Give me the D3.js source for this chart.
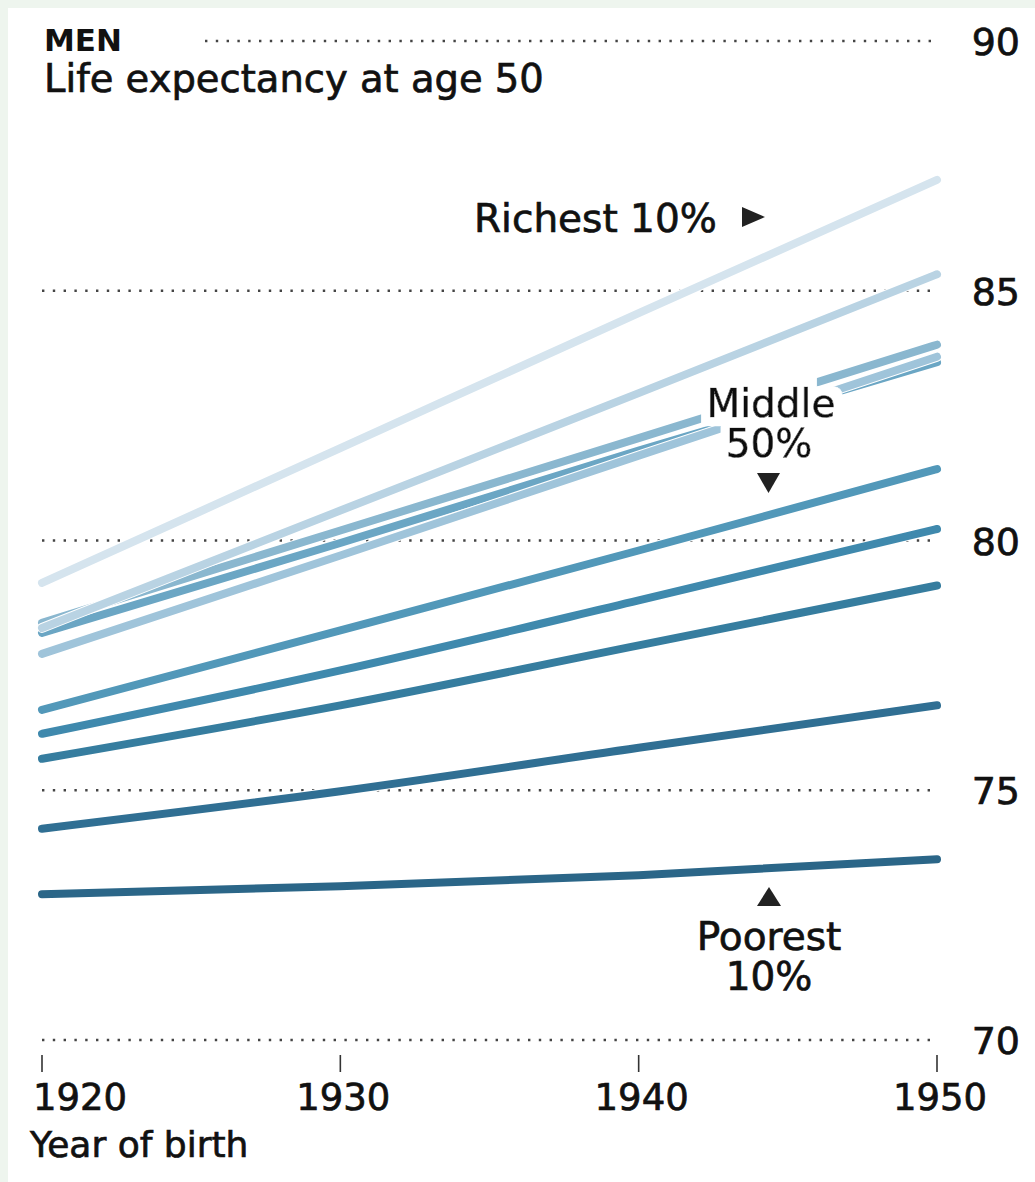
<!DOCTYPE html>
<html>
<head>
<meta charset="utf-8">
<script src="https://d3js.org/d3.v7.min.js"></script>
<style>
  html, body { margin: 0; padding: 0; background: #eef5ee; }
  svg { display: block; }
  text { font-family: "DejaVu Sans", sans-serif; fill: #111; }
  text.t { stroke: #111; stroke-width: 0.7px; }
</style>
</head>
<body>
<div id="chart"></div>
<script>
// ---- Data ----
const years = [1920, 1930, 1940, 1950];
const groups = ["Richest 10%", "Decile 9", "Decile 8", "Decile 7", "Decile 6",
                "Decile 5", "Decile 4", "Decile 3", "Decile 2", "Poorest 10%"];
const d1  = [79.15, 81.85, 84.55, 87.22];
const d2  = [78.25, 80.60, 82.95, 85.33];
const d3v = [77.73, 79.70, 81.70, 83.68];
const d4  = [78.35, 80.20, 82.05, 83.92];
const d5  = [78.15, 79.95, 81.80, 83.57];
const d6  = [76.61, 78.20, 79.80, 81.43];
const d7  = [76.13, 77.40, 78.80, 80.23];
const d8  = [75.63, 76.70, 77.90, 79.10];
const d9  = [74.23, 74.98, 75.85, 76.70];
const d10 = [72.92, 73.08, 73.30, 73.62];
const seriesValues = [d1, d2, d3v, d4, d5, d6, d7, d8, d9, d10];
const lineColors = ["#d5e4ee", "#b9d3e3", "#9fc4da", "#8ab7cf", "#6ba6c4",
                    "#5298b9", "#3f89ad", "#367d9f", "#306f93", "#2b6688"];
const yTicks = [70, 75, 80, 85, 90];
const xTicks = [1920, 1930, 1940, 1950];

// ---- Layout ----
const W = 1035, H = 1182;
const svg = d3.select("#chart").append("svg").attr("width", W).attr("height", H);

// halo filter
const f = svg.append("defs").append("filter").attr("id", "halo")
  .attr("x", "-20%").attr("y", "-40%").attr("width", "140%").attr("height", "180%");
f.append("feMorphology").attr("in", "SourceAlpha").attr("operator", "dilate").attr("radius", 9).attr("result", "d");
f.append("feFlood").attr("flood-color", "#fff").attr("result", "w");
f.append("feComposite").attr("in", "w").attr("in2", "d").attr("operator", "in").attr("result", "h");
const fm = f.append("feMerge");
fm.append("feMergeNode").attr("in", "h");
fm.append("feMergeNode").attr("in", "SourceGraphic");

svg.append("rect").attr("x", 8).attr("y", 8).attr("width", W - 8).attr("height", H - 8).attr("fill", "#fff");

const x = d3.scaleLinear().domain([1920, 1950]).range([42, 937]);
const y = d3.scaleLinear().domain([70, 90]).range([1040, 41]);

// grid
const grid = svg.append("g");
yTicks.forEach(t => {
  grid.append("line")
    .attr("x1", t === 90 ? 205 : x(1920)).attr("x2", x(1950))
    .attr("y1", y(t)).attr("y2", y(t))
    .attr("stroke", "#444").attr("stroke-width", 2.4)
    .attr("stroke-dasharray", "2.4,8.4");
  grid.append("text").attr("class", "t")
    .attr("x", 1020).attr("y", y(t) + 14)
    .attr("text-anchor", "end")
    .attr("font-size", 38)
    .text(t);
});

// x ticks
xTicks.forEach((t, i) => {
  svg.append("line")
    .attr("x1", x(t)).attr("x2", x(t))
    .attr("y1", 1055).attr("y2", 1072)
    .attr("stroke", "#333").attr("stroke-width", 1.6);
  svg.append("text").attr("class", "t")
    .attr("x", i === 0 ? x(t) - 9 : x(t) + 3)
    .attr("y", 1110)
    .attr("text-anchor", i === 0 ? "start" : "middle")
    .attr("font-size", 37)
    .text(t);
});
svg.append("text").attr("class", "t").attr("x", 30).attr("y", 1157).attr("font-size", 36).text("Year of birth");

// titles
svg.append("text").attr("x", 44).attr("y", 51).attr("font-size", 31)
  .attr("font-weight", "bold").text("MEN");
svg.append("text").attr("class", "t").attr("x", 44).attr("y", 92).attr("font-size", 38.5)
  .text("Life expectancy at age 50");

// lines (darkest first)
const line = d3.line()
  .x((d, i) => x(years[i]))
  .y(d => y(d))
  .curve(d3.curveMonotoneX);
const lg = svg.append("g");
for (let k = seriesValues.length - 1; k >= 0; k--) {
  lg.append("path").attr("d", line(seriesValues[k]))
    .attr("fill", "none").attr("stroke", "#fff").attr("stroke-width", 10)
    .attr("stroke-linecap", "round");
  lg.append("path").attr("d", line(seriesValues[k]))
    .attr("fill", "none").attr("stroke", lineColors[k]).attr("stroke-width", 8)
    .attr("stroke-linecap", "round");
}

// annotations
const ann = svg.append("g");
ann.append("text").attr("class", "t").attr("x", 474).attr("y", 232).attr("font-size", 39).text("Richest 10%");
ann.append("path").attr("d", "M742,207 L765,217 L742,227 Z").attr("fill", "#222");

// Middle 50% with white halo
const mid = ann.append("text").attr("class", "t").attr("text-anchor", "middle")
  .attr("font-size", 39).attr("filter", "url(#halo)");
mid.append("tspan").attr("x", 771).attr("y", 417).text("Middle");
mid.append("tspan").attr("x", 769).attr("y", 457).text("50%");
ann.append("path").attr("d", "M757,473 L780,473 L768.5,493 Z").attr("fill", "#222");

ann.append("path").attr("d", "M757,906 L781,906 L769,887 Z").attr("fill", "#222");
const poor = ann.append("text").attr("class", "t").attr("text-anchor", "middle").attr("font-size", 39);
poor.append("tspan").attr("x", 769).attr("y", 950).text("Poorest");
poor.append("tspan").attr("x", 769).attr("y", 990).text("10%");
</script>
</body>
</html>
